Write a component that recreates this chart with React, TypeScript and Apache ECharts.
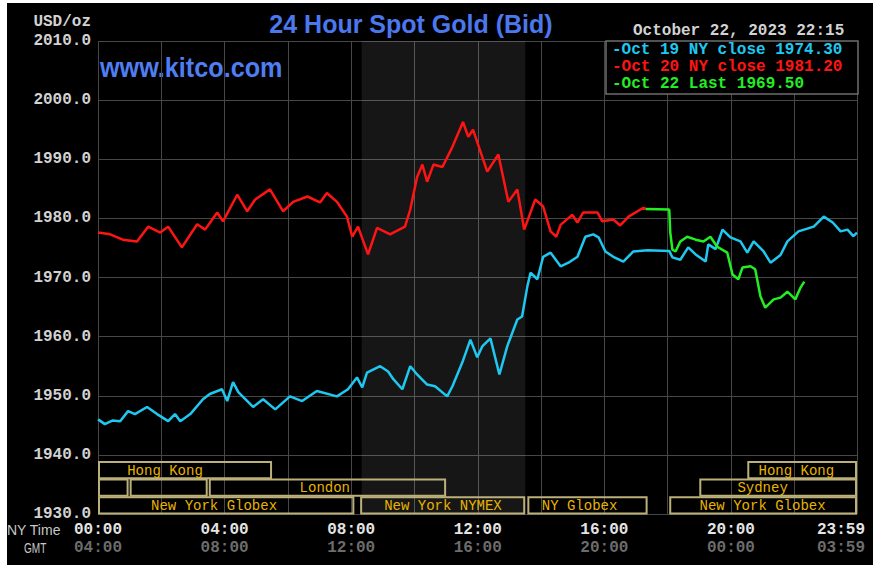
import React, { useEffect, useRef } from "react";
import * as echarts from "echarts";

const TITLE = "24 Hour Spot Gold (Bid)";
const SITE = "www.kitco.com";
const UNIT = "USD/oz";
const STAMP = "October 22, 2023 22:15";

const Y_MIN = 1930;
const Y_MAX = 2010;
const Y_STEP = 10;
const X_MAX = 1439; // minutes, NY time 00:00 .. 23:59

const NY_TICKS = ["00:00", "04:00", "08:00", "12:00", "16:00", "20:00", "23:59"];
const GMT_TICKS = ["04:00", "08:00", "12:00", "16:00", "20:00", "00:00", "03:59"];

const NYMEX_OPEN = 500; // 08:20
const NYMEX_CLOSE = 810; // 13:30

const LEGEND_TEXT = ["-Oct 19 NY close 1974.30", "-Oct 20 NY close 1981.20", "-Oct 22 Last 1969.50"];
const COLORS = ["#1ec8f0", "#ff1414", "#22ee22"];

// [minute of NY day, price]
const OCT19: [number, number][] = [
  [0, 1946.0], [13, 1945.2], [27, 1945.8], [42, 1945.7], [57, 1947.4], [70, 1946.9], [93, 1948.1],
  [112, 1946.9], [133, 1945.7], [146, 1946.9], [156, 1945.7], [175, 1946.9], [199, 1949.4], [212, 1950.3],
  [235, 1951.1], [245, 1949.1], [256, 1952.3], [266, 1950.6], [294, 1948.1], [313, 1949.4], [336, 1947.7],
  [364, 1949.9], [387, 1949.1], [415, 1950.8], [453, 1949.9], [474, 1951.1], [491, 1953.1], [501, 1951.4],
  [510, 1953.9], [535, 1955.0], [550, 1954.1], [560, 1952.8], [577, 1951.1], [592, 1955.0], [605, 1953.6],
  [624, 1951.9], [639, 1951.6], [662, 1949.9], [672, 1951.6], [691, 1955.7], [706, 1959.5], [719, 1956.5],
  [729, 1958.4], [744, 1959.7], [761, 1953.6], [776, 1958.4], [795, 1962.9], [804, 1963.4], [814, 1968.5],
  [820, 1970.8], [833, 1969.7], [844, 1973.5], [858, 1974.2], [877, 1971.9], [892, 1972.5], [909, 1973.5],
  [924, 1976.9], [939, 1977.3], [949, 1976.8], [962, 1974.4], [977, 1973.5], [996, 1972.7], [1015, 1974.4],
  [1042, 1974.6], [1083, 1974.5], [1089, 1973.4], [1104, 1973.0], [1119, 1975.1], [1133, 1973.9],
  [1152, 1972.7], [1157, 1975.6], [1171, 1974.8], [1184, 1978.1], [1199, 1976.8], [1218, 1976.1],
  [1231, 1974.2], [1243, 1976.1], [1262, 1974.4], [1275, 1972.5], [1294, 1973.8], [1307, 1976.1],
  [1328, 1977.8], [1357, 1978.6], [1376, 1980.3], [1393, 1979.3], [1408, 1977.8], [1421, 1978.1],
  [1432, 1977.0], [1439, 1977.6],
];

const OCT20: [number, number][] = [
  [0, 1977.6], [23, 1977.3], [47, 1976.4], [74, 1976.1], [95, 1978.6], [118, 1977.6], [133, 1978.6],
  [159, 1975.1], [188, 1979.0], [203, 1978.1], [226, 1981.0], [237, 1979.5], [264, 1984.0], [283, 1981.2],
  [298, 1983.2], [326, 1984.9], [351, 1981.2], [370, 1982.8], [397, 1983.7], [421, 1982.7], [434, 1984.3],
  [453, 1982.8], [472, 1980.3], [482, 1976.9], [493, 1978.6], [512, 1973.9], [529, 1978.4], [554, 1977.3],
  [560, 1977.6], [582, 1978.6], [592, 1981.5], [605, 1987.0], [615, 1989.1], [624, 1986.2], [636, 1989.1],
  [653, 1988.7], [672, 1992.1], [692, 1996.3], [702, 1993.8], [711, 1995.0], [738, 1987.9], [759, 1990.8],
  [778, 1982.8], [795, 1984.9], [808, 1978.1], [829, 1983.2], [844, 1982.0], [858, 1977.8], [869, 1976.9],
  [877, 1978.9], [899, 1980.6], [909, 1979.3], [920, 1981.0], [947, 1981.0], [956, 1979.5], [977, 1979.8],
  [990, 1978.8], [1006, 1980.3], [1034, 1981.8], [1038, 1981.6],
];

const OCT22: [number, number][] = [
  [1038, 1981.6], [1083, 1981.5], [1085, 1977.6], [1089, 1974.7], [1095, 1974.4], [1104, 1976.1],
  [1117, 1976.9], [1133, 1976.4], [1148, 1976.1], [1161, 1976.9], [1174, 1975.2], [1193, 1974.2],
  [1203, 1970.5], [1214, 1969.7], [1222, 1971.7], [1237, 1971.9], [1246, 1971.4], [1256, 1966.8],
  [1265, 1964.9], [1281, 1966.3], [1294, 1966.6], [1307, 1967.6], [1322, 1966.3], [1332, 1968.3],
  [1339, 1969.3],
];

// trading sessions: row (0 = top), start/end minute, label, label centre minute
const SESSION_ROW = [0, 0, 1, 1, 1, 1, 2, 2, 2, 2];
const SESSION_START = [0, 1231, 0, 60, 210, 1140, 0, 497, 814, 1083];
const SESSION_END = [330, 1439, 58, 208, 660, 1439, 486, 810, 1042, 1439];
const SESSION_LABEL = ["Hong Kong", "Hong Kong", "", "", "London", "Sydney", "New York Globex", "New York NYMEX", "NY Globex", "New York Globex"];
const SESSION_LABEL_AT = [127, 1324, 0, 0, 430, 1260, 220, 654, 913, 1260];

const MONO = '"Liberation Mono", "DejaVu Sans Mono", monospace';
const SANS = '"Liberation Sans", Arial, sans-serif';

export default function App() {
  const ref = useRef<HTMLDivElement>(null);

  useEffect(() => {
    if (!ref.current) return;
    const chart = echarts.init(ref.current, undefined, { renderer: "svg" });

    const xLabel = (v: number) => {
      let i = -1;
      if (v === X_MAX) i = 6;
      else if (v % 240 === 0) i = v / 240;
      if (i < 0) return "";
      if (i === 6) return `{ae|${NY_TICKS[i]}}\n{be|${GMT_TICKS[i]}}`;
      return `{a|${NY_TICKS[i]}}\n{b|${GMT_TICKS[i]}}`;
    };

    const option: any = {
      animation: false,
      backgroundColor: "transparent",
      grid: { left: 98, right: 21, top: 41, bottom: 58, containLabel: false, outerBoundsMode: "none" },
      xAxis: {
        type: "value",
        min: 0,
        max: X_MAX,
        interval: 120,
        axisLine: { show: false },
        axisTick: { show: false },
        splitLine: { show: true, lineStyle: { color: "#474747", width: 1 } },
        axisLabel: {
          showMaxLabel: true,
          showMinLabel: true,
          margin: 7,
          formatter: xLabel,
          rich: {
            a: { fontFamily: MONO, fontWeight: "bold", fontSize: 16, color: "#e4e4e4", lineHeight: 18 },
            b: { fontFamily: MONO, fontWeight: "bold", fontSize: 16, color: "#6c6c6c", lineHeight: 18 },
            ae: { fontFamily: MONO, fontWeight: "bold", fontSize: 16, color: "#e4e4e4", lineHeight: 18, padding: [0, 32, 0, 0] },
            be: { fontFamily: MONO, fontWeight: "bold", fontSize: 16, color: "#6c6c6c", lineHeight: 18, padding: [0, 32, 0, 0] },
          },
        },
      },
      yAxis: {
        type: "value",
        min: Y_MIN,
        max: Y_MAX,
        interval: Y_STEP,
        axisLine: { show: false },
        axisTick: { show: false },
        splitLine: { show: true, lineStyle: { color: "#474747", width: 1 } },
        axisLabel: {
          margin: 7,
          formatter: (v: number) => v.toFixed(1),
          fontFamily: MONO,
          fontWeight: "bold",
          fontSize: 16,
          color: "#d2d2d2",
        },
      },
      series: [
        {
          type: "custom",
          silent: true,
          z: 1,
          data: SESSION_START.map((s, i) => [s, SESSION_END[i]]),
          encode: { x: [0, 1] },
          renderItem: (params: any, api: any) => {
            const i = params.dataIndex;
            const base = api.coord([0, Y_MIN])[1];
            const x0 = api.coord([SESSION_START[i], Y_MIN])[0];
            const x1 = api.coord([SESSION_END[i], Y_MIN])[0];
            const xl = api.coord([SESSION_LABEL_AT[i], Y_MIN])[0];
            const top = base - (3 - SESSION_ROW[i]) * 17.6 + 0.8;
            const children: any[] = [
              {
                type: "rect",
                shape: { x: x0 + 1, y: top, width: x1 - x0 - 2, height: 16.2 },
                style: { fill: "none", stroke: "#bcb07a", lineWidth: 2 },
              },
            ];
            if (SESSION_LABEL[i]) {
              children.push({
                type: "text",
                x: xl,
                y: top + 8.6,
                style: {
                  text: SESSION_LABEL[i],
                  fill: "#e8b400",
                  font: `14px ${MONO}`,
                  align: "center",
                  verticalAlign: "middle",
                },
              });
            }
            return { type: "group", children };
          },
        },
        {
          type: "line",
          name: "Oct 19",
          data: OCT19,
          symbol: "none",
          silent: true,
          z: 3,
          lineStyle: { color: COLORS[0], width: 2.5 },
          markArea: {
            silent: true,
            itemStyle: { color: "rgba(255,255,255,0.085)" },
            data: [[{ xAxis: NYMEX_OPEN }, { xAxis: NYMEX_CLOSE }]],
          },
        },
        {
          type: "line",
          name: "Oct 20",
          data: OCT20,
          symbol: "none",
          silent: true,
          z: 4,
          lineStyle: { color: COLORS[1], width: 2.5 },
        },
        {
          type: "line",
          name: "Oct 22",
          data: OCT22,
          symbol: "none",
          silent: true,
          z: 5,
          lineStyle: { color: COLORS[2], width: 2.5 },
        },
      ],
      graphic: [
        {
          type: "text",
          x: 91,
          y: 22,
          style: { text: UNIT, fill: "#d2d2d2", font: `bold 16px ${MONO}`, align: "right", verticalAlign: "middle" },
        },
        {
          type: "text",
          x: 411,
          y: 24,
          style: { text: TITLE, fill: "#4b78ee", font: `bold 25px ${SANS}`, align: "center", verticalAlign: "middle" },
        },
        {
          type: "text",
          x: 100,
          y: 68,
          scaleX: 0.9,
          style: { text: SITE, fill: "#4f7ef2", font: `bold 28px ${SANS}`, align: "left", verticalAlign: "middle" },
        },
        {
          type: "text",
          x: 633,
          y: 31,
          style: { text: STAMP, fill: "#d2d2d2", font: `bold 16px ${MONO}`, align: "left", verticalAlign: "middle" },
        },
        {
          type: "rect",
          z: 50,
          shape: { x: 606, y: 41, width: 252, height: 53 },
          style: { fill: "#000", stroke: "#6e6e6e", lineWidth: 1.5 },
        },
        ...LEGEND_TEXT.map((t, i) => ({
          type: "text",
          z: 51,
          x: 612,
          y: 50 + i * 17,
          style: { text: t, fill: COLORS[i], font: `bold 16px ${MONO}`, align: "left", verticalAlign: "middle" },
        })),
        {
          type: "text",
          x: 7,
          y: 530,
          style: { text: "NY Time", fill: "#c8c8c8", font: `14px ${SANS}`, align: "left", verticalAlign: "middle" },
        },
        {
          type: "text",
          x: 24,
          y: 548,
          scaleX: 0.72,
          style: { text: "GMT", fill: "#c8c8c8", font: `14px ${SANS}`, align: "left", verticalAlign: "middle" },
        },
      ],
    };

    chart.setOption(option);
    return () => chart.dispose();
  }, []);

  return (
    <div style={{ position: "absolute", left: 0, top: 0, width: 878, height: 572, background: "#fff" }}>
      <div style={{ position: "absolute", left: 7, top: 3, width: 866, height: 562, background: "#000" }} />
      <div ref={ref} style={{ position: "absolute", left: 0, top: 0, width: 878, height: 572 }} />
    </div>
  );
}
